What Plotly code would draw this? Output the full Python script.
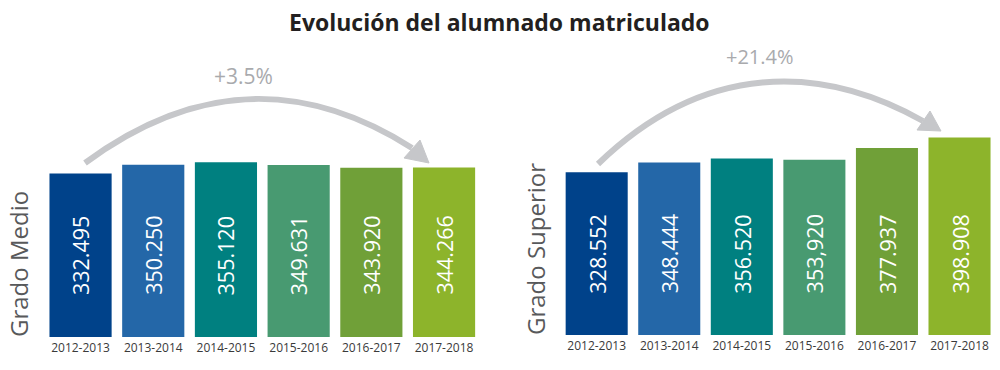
import plotly.graph_objects as go

W, H = 1000, 370

cursos = ["2012-2013", "2013-2014", "2014-2015", "2015-2016", "2016-2017", "2017-2018"]
grado_medio = [332495, 350250, 355120, 349631, 343920, 344266]
grado_medio_txt = ["332.495", "350.250", "355.120", "349.631", "343.920", "344.266"]
grado_superior = [328552, 348444, 356520, 353920, 377937, 398908]
grado_superior_txt = ["328.552", "348.444", "356.520", "353,920", "377.937", "398.908"]
colores = ["#00428a", "#2467a8", "#008080", "#489a71", "#70a038", "#8db42b"]

FONT = "Open Sans"


def px(x, y):
    return x / W, (H - y) / H


def path_cubic(p0, p1, p2, p3):
    pts = [px(*p) for p in (p0, p1, p2, p3)]
    return "M {:.4f},{:.4f} C {:.4f},{:.4f} {:.4f},{:.4f} {:.4f},{:.4f}".format(
        pts[0][0], pts[0][1], pts[1][0], pts[1][1], pts[2][0], pts[2][1], pts[3][0], pts[3][1])


def path_tri(a, b, c):
    pts = [px(*p) for p in (a, b, c)]
    return "M {:.4f},{:.4f} L {:.4f},{:.4f} L {:.4f},{:.4f} Z".format(
        pts[0][0], pts[0][1], pts[1][0], pts[1][1], pts[2][0], pts[2][1])


fig = go.Figure()
fig.add_trace(go.Bar(x=cursos, y=grado_medio, marker=dict(color=colores, line=dict(width=0)),
                     xaxis="x", yaxis="y", hoverinfo="x+y"))
fig.add_trace(go.Bar(x=cursos, y=grado_superior, marker=dict(color=colores, line=dict(width=0)),
                     xaxis="x2", yaxis="y2", hoverinfo="x+y"))

tickfont = dict(family=FONT, size=12, color="#3a3a3a")
fig.update_layout(
    width=W, height=H,
    margin=dict(l=0, r=0, t=0, b=0),
    paper_bgcolor="white", plot_bgcolor="white",
    showlegend=False,
    bargap=0.145,
    xaxis=dict(domain=[0.0442, 0.4804], type="category", showline=False, showgrid=False,
               ticks="", tickfont=tickfont, ticklabelstandoff=2, fixedrange=True),
    yaxis=dict(domain=[33 / H, 270 / H], range=[0, 481700], visible=False, fixedrange=True),
    xaxis2=dict(domain=[0.5604, 0.9958], type="category", showline=False, showgrid=False,
                ticks="", tickfont=tickfont, ticklabelstandoff=2, anchor="y2", fixedrange=True),
    yaxis2=dict(domain=[35 / H, 270 / H], range=[0, 474700], visible=False, anchor="x2",
                fixedrange=True),
)


def ann(**kw):
    base = dict(showarrow=False, xanchor="center", yanchor="middle")
    base.update(kw)
    return base


annotations = []
# Title
annotations.append(ann(text="<b>Evolución del alumnado matriculado</b>", x=0.499, y=(H - 22) / H,
                       xref="paper", yref="paper",
                       font=dict(family=FONT, size=23, color="#231f20")))
# Panel titles
annotations.append(ann(text="Grado Medio", x=18 / W, y=(H - 339) / H, xref="paper", yref="paper",
                       textangle=-90, yanchor="bottom",
                       font=dict(family=FONT, size=24, color="#58595b")))
annotations.append(ann(text="Grado Superior", x=535 / W, y=(H - 337) / H, xref="paper", yref="paper",
                       textangle=-90, yanchor="bottom",
                       font=dict(family=FONT, size=24, color="#58595b")))
# Values inside bars
for c, t in zip(cursos, grado_medio_txt):
    annotations.append(ann(text=t, x=c, y=(H - 255.5) / H, xref="x", yref="paper",
                           textangle=-90, font=dict(family=FONT, size=21.5, color="white")))
for c, t in zip(cursos, grado_superior_txt):
    annotations.append(ann(text=t, x=c, y=(H - 254) / H, xref="x2", yref="paper",
                           textangle=-90, font=dict(family=FONT, size=21.5, color="white")))

# Growth percentages
pct_medio = (grado_medio[-1] / grado_medio[0] - 1) * 100
pct_sup = (grado_superior[-1] / grado_superior[0] - 1) * 100
annotations.append(ann(text="+{:.1f}%".format(pct_medio), x=243.5 / W, y=(H - 75.5) / H,
                       xref="paper", yref="paper",
                       font=dict(family=FONT, size=21, color="#a9aaad")))
annotations.append(ann(text="+{:.1f}%".format(pct_sup), x=759.5 / W, y=(H - 57) / H,
                       xref="paper", yref="paper",
                       font=dict(family=FONT, size=20, color="#a9aaad")))
fig.update_layout(annotations=annotations)

arc_color = "#c6c7ca"
shapes = [
    dict(type="path", xref="paper", yref="paper",
         path=path_cubic((85, 163), (190.1, 85.4), (298.3, 75.6), (412, 148)),
         line=dict(color=arc_color, width=6), layer="above"),
    dict(type="path", xref="paper", yref="paper",
         path=path_tri((404, 158), (420, 140), (429, 163)),
         fillcolor=arc_color, line=dict(color=arc_color, width=1), layer="above"),
    dict(type="path", xref="paper", yref="paper",
         path=path_cubic((598, 164), (704.3, 61), (821.7, 64), (923, 121)),
         line=dict(color=arc_color, width=6), layer="above"),
    dict(type="path", xref="paper", yref="paper",
         path=path_tri((917, 130), (930, 111), (941, 131)),
         fillcolor=arc_color, line=dict(color=arc_color, width=1), layer="above"),
]
fig.update_layout(shapes=shapes)

fig.write_html("out.html", config={"displayModeBar": False},
               post_script="document.body.style.margin='0';")
